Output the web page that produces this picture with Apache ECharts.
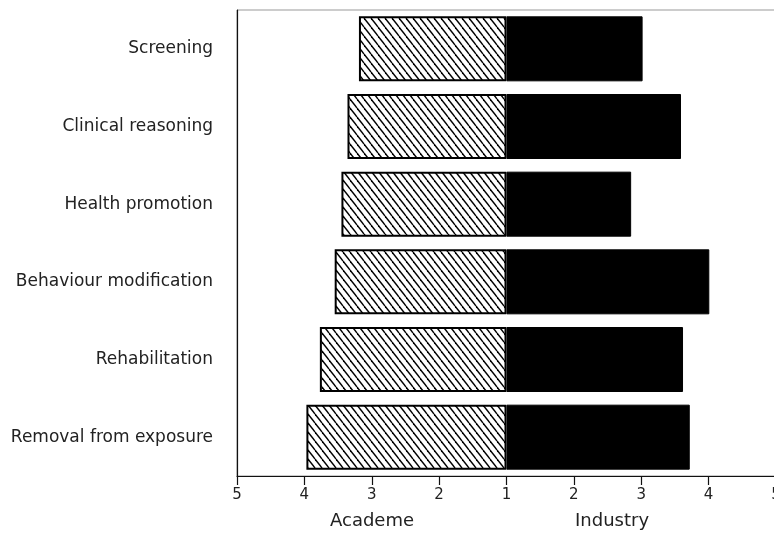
<!DOCTYPE html>
<html>
<head>
<meta charset="utf-8">
<script src="https://cdn.jsdelivr.net/npm/echarts@6/dist/echarts.min.js"></script>
<style>
html,body{margin:0;padding:0;background:#fff;}
#chart{width:774px;height:535px;}
</style>
</head>
<body>
<div id="chart"></div>
<script>
const categories = ["Screening","Clinical reasoning","Health promotion","Behaviour modification","Rehabilitation","Removal from exposure"];
const academe = [3.19, 3.36, 3.45, 3.55, 3.77, 3.97];
const industry = [3.02, 3.59, 2.85, 4.01, 3.62, 3.72];
const baseValue = 1;

// hatch pattern
const pc = document.createElement('canvas');
pc.width = 7; pc.height = 9;
const g = pc.getContext('2d');
g.fillStyle = '#fff'; g.fillRect(0,0,7,9);
g.strokeStyle = '#000'; g.lineWidth = 1.4;
[[-7,0],[0,0],[7,0]].forEach(([ox,oy])=>{
  g.beginPath(); g.moveTo(ox,oy); g.lineTo(ox+7,oy+9); g.stroke();
});

const chart = echarts.init(document.getElementById('chart'), null, {renderer:'canvas'});
const font = '"DejaVu Sans", "Liberation Sans", Arial, sans-serif';
chart.setOption({
  animation:false,
  backgroundColor:'#fff',
  grid:{left:237, top:10, right:-2, bottom:59, show:true, borderColor:'#999', borderWidth:1,
        containLabel:false, outerBoundsMode:'none'},
  xAxis:{
    type:'value', min:-4, max:4, interval:1,
    axisLine:{show:true, lineStyle:{color:'#111', width:1.2}},
    axisTick:{show:true, inside:false, length:9, lineStyle:{color:'#111', width:1.2}},
    splitLine:{show:false},
    axisLabel:{margin:12, fontSize:15, color:'#222', fontFamily:font,
      formatter:function(v){ return String(Math.abs(v)+baseValue); }}
  },
  yAxis:{
    type:'category', data:categories, inverse:true,
    axisLine:{show:true, onZero:false, lineStyle:{color:'#111', width:1.2}},
    axisTick:{show:false},
    splitLine:{show:false},
    axisLabel:{margin:24, fontSize:17, color:'#222', fontFamily:font}
  },
  series:[
    {name:'Academe', type:'bar', barWidth:65, barGap:'-100%',
     data:academe.map(v=>-(v-baseValue)),
     itemStyle:{color:{image:pc, repeat:'repeat'}, borderColor:'#000', borderWidth:2}},
    {name:'Industry', type:'bar', barWidth:65, barGap:'-100%',
     data:industry.map(v=>v-baseValue),
     itemStyle:{color:'#000', borderColor:'#000', borderWidth:1}}
  ],
  graphic:[
    {type:'text', left:330, top:512, style:{text:'Academe', font:'18px '+font, fill:'#222'}},
    {type:'text', left:575, top:512, style:{text:'Industry', font:'18px '+font, fill:'#222'}}
  ]
});
</script>
</body>
</html>
